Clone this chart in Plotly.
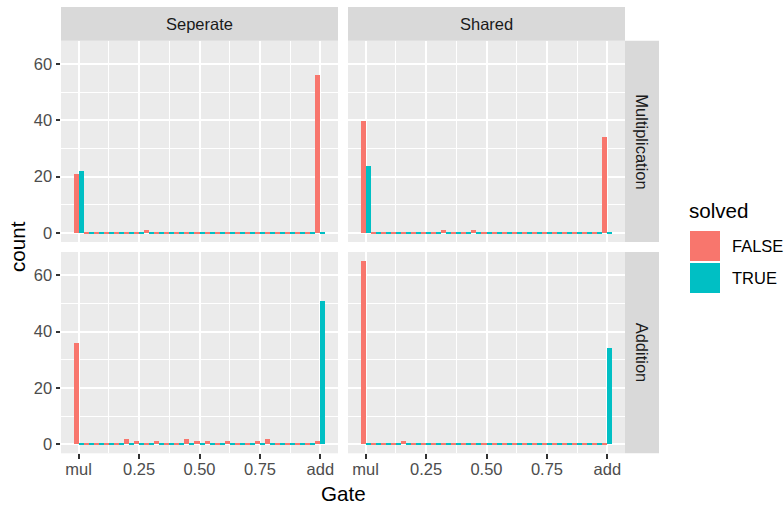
import plotly.graph_objects as go

# ---------------- data ----------------
n_bins = 25
bin_centers = [k / (n_bins - 1) for k in range(n_bins)]
series_names = ["FALSE", "TRUE"]
series_colors = ["#F8766D", "#00BFC4"]
col_labels = ["Seperate", "Shared"]
row_labels = ["Multiplication", "Addition"]
x_tick_vals = [0, 0.25, 0.5, 0.75, 1]
x_tick_text = ["mul", "0.25", "0.50", "0.75", "add"]
y_tick_vals = [0, 20, 40, 60]

#                  0  1  2  3  4  5  6  7  8  9 10 11 12 13 14 15 16 17 18 19 20 21 22 23 24
sep_mul_false = [21, 0, 0, 0, 0, 0, 0, 1, 0, 0, 0, 0, 0, 0, 0, 0, 0, 0, 0, 0, 0, 0, 0, 0, 56]
sep_mul_true  = [22, 0, 0, 0, 0, 0, 0, 0, 0, 0, 0, 0, 0, 0, 0, 0, 0, 0, 0, 0, 0, 0, 0, 0, 0]
shr_mul_false = [40, 0, 0, 0, 0, 0, 0, 0, 1, 0, 0, 1, 0, 0, 0, 0, 0, 0, 0, 0, 0, 0, 0, 0, 34]
shr_mul_true  = [24, 0, 0, 0, 0, 0, 0, 0, 0, 0, 0, 0, 0, 0, 0, 0, 0, 0, 0, 0, 0, 0, 0, 0, 0]
sep_add_false = [36, 0, 0, 0, 0, 2, 1, 0, 1, 0, 0, 2, 1, 1, 0, 1, 0, 0, 1, 2, 0, 0, 0, 0, 1]
sep_add_true  = [0, 0, 0, 0, 0, 0, 0, 0, 0, 0, 0, 0, 0, 0, 0, 0, 0, 0, 0, 0, 0, 0, 0, 0, 51]
shr_add_false = [65, 0, 0, 0, 1, 0, 0, 0, 0, 0, 0, 0, 0, 0, 0, 0, 0, 0, 0, 0, 0, 0, 0, 0, 0]
shr_add_true  = [0, 0, 0, 0, 0, 0, 0, 0, 0, 0, 0, 0, 0, 0, 0, 0, 0, 0, 0, 0, 0, 0, 0, 0, 34]

panel_data = [
    (sep_mul_false, sep_mul_true),
    (shr_mul_false, shr_mul_true),
    (sep_add_false, sep_add_true),
    (shr_add_false, shr_add_true),
]

# ---------------- layout geometry ----------------
W, H = 784, 505
FONT = "Liberation Sans, Arial, sans-serif"
SMALL = 16.5
LARGE = 20.6
col_px = [(61, 338), (348, 625)]
row_px = [(40.7, 242), (252, 453.3)]
strip_top = (7, 40.7)
strip_right = (625, 659)

bw = 1 / (n_bins - 1)
x_range = [-bw / 2 - 0.05 * (1 + bw), 1 + bw / 2 + 0.05 * (1 + bw)]
ymax = 65
y_range = [-0.05 * ymax, ymax * 1.05]

fig = go.Figure()
axis_common = dict(showline=False, zeroline=False, gridcolor="white",
                   tickfont=dict(family=FONT, size=SMALL, color="#4D4D4D"),
                   fixedrange=True)

for i, (fvals, tvals) in enumerate(panel_data):
    r, c = divmod(i, 2)
    ax = "" if i == 0 else str(i + 1)
    xref, yref = "x" + ax, "y" + ax
    for s, vals in enumerate((fvals, tvals)):
        fig.add_trace(go.Bar(
            x=bin_centers, y=vals, xaxis=xref, yaxis=yref,
            marker=dict(color=series_colors[s], line=dict(width=0)),
            offsetgroup=series_names[s], name=series_names[s],
            showlegend=False))
        # thin baseline segments for empty bins (as ggplot draws them)
        fig.add_trace(go.Bar(
            x=bin_centers, y=[0.36 if v == 0 else 0 for v in vals],
            base=-0.18, xaxis=xref, yaxis=yref,
            marker=dict(color=series_colors[s], line=dict(width=0)),
            offsetgroup=series_names[s], showlegend=False, hoverinfo="skip"))

    x0, x1 = col_px[c]
    y0, y1 = row_px[r]
    xa = dict(axis_common, domain=[x0 / W, x1 / W], range=x_range,
              anchor=yref, tickmode="array", tickvals=x_tick_vals,
              ticktext=x_tick_text, gridwidth=2,
              minor=dict(tickmode="array", tickvals=[0.125, 0.375, 0.625, 0.875],
                         showgrid=True, gridcolor="white", gridwidth=1, ticks=""))
    ya = dict(axis_common, domain=[1 - y1 / H, 1 - y0 / H], range=y_range,
              anchor=xref, tickmode="array", tickvals=y_tick_vals, gridwidth=2,
              minor=dict(tickmode="array", tickvals=[10, 30, 50],
                         showgrid=True, gridcolor="white", gridwidth=1, ticks=""))
    if r == 1:
        xa.update(ticks="outside", ticklen=4.5, tickwidth=1.8, tickcolor="#333333",
                  showticklabels=True, ticklabelstandoff=-4)
    else:
        xa.update(ticks="", showticklabels=False)
    if c == 0:
        ya.update(ticks="outside", ticklen=4.5, tickwidth=1.8, tickcolor="#333333",
                  showticklabels=True)
    else:
        ya.update(ticks="", showticklabels=False)
    fig.layout["xaxis" + ax] = xa
    fig.layout["yaxis" + ax] = ya

shapes = []
annotations = []
# top strips
for c, lab in enumerate(col_labels):
    x0, x1 = col_px[c]
    shapes.append(dict(type="rect", xref="paper", yref="paper",
                       x0=x0 / W, x1=x1 / W, y0=1 - strip_top[1] / H, y1=1 - strip_top[0] / H,
                       fillcolor="#D9D9D9", line=dict(width=0), layer="below"))
    annotations.append(dict(text=lab, xref="paper", yref="paper",
                            x=(x0 + x1) / 2 / W, y=1 - (strip_top[0] + strip_top[1]) / 2 / H,
                            showarrow=False, font=dict(family=FONT, size=SMALL, color="#1A1A1A"),
                            xanchor="center", yanchor="middle"))
# right strips
for r, lab in enumerate(row_labels):
    y0, y1 = row_px[r]
    shapes.append(dict(type="rect", xref="paper", yref="paper",
                       x0=strip_right[0] / W, x1=strip_right[1] / W, y0=1 - y1 / H, y1=1 - y0 / H,
                       fillcolor="#D9D9D9", line=dict(width=0), layer="below"))
    annotations.append(dict(text=lab, xref="paper", yref="paper",
                            x=(strip_right[0] + strip_right[1]) / 2 / W, y=1 - (y0 + y1) / 2 / H,
                            showarrow=False, textangle=90,
                            font=dict(family=FONT, size=SMALL, color="#1A1A1A"),
                            xanchor="center", yanchor="middle"))
# axis titles
annotations.append(dict(text="Gate", xref="paper", yref="paper", x=343 / W, y=1 - 493 / H,
                        showarrow=False, font=dict(family=FONT, size=LARGE, color="black"),
                        xanchor="center", yanchor="middle"))
annotations.append(dict(text="count", xref="paper", yref="paper", x=17 / W, y=1 - 247 / H,
                        showarrow=False, textangle=-90,
                        font=dict(family=FONT, size=LARGE, color="black"),
                        xanchor="center", yanchor="middle"))
# legend
annotations.append(dict(text="solved", xref="paper", yref="paper", x=687 / W, y=1 - 211 / H,
                        showarrow=False, font=dict(family=FONT, size=LARGE, color="black"),
                        xanchor="left", yanchor="middle"))
for s, name in enumerate(series_names):
    ky0 = 231 + s * 32
    shapes.append(dict(type="rect", xref="paper", yref="paper",
                       x0=690 / W, x1=720 / W, y0=1 - (ky0 + 30) / H, y1=1 - ky0 / H,
                       fillcolor=series_colors[s], line=dict(width=0)))
    annotations.append(dict(text=name, xref="paper", yref="paper", x=730 / W, y=1 - (ky0 + 15) / H,
                            showarrow=False, font=dict(family=FONT, size=SMALL, color="black"),
                            xanchor="left", yanchor="middle"))

fig.update_layout(
    width=W, height=H, margin=dict(l=0, r=0, t=0, b=0),
    paper_bgcolor="white", plot_bgcolor="#EBEBEB",
    barmode="group", bargap=0, bargroupgap=0,
    showlegend=False, shapes=shapes, annotations=annotations,
    font=dict(family=FONT),
)

fig.write_html("out.html")
